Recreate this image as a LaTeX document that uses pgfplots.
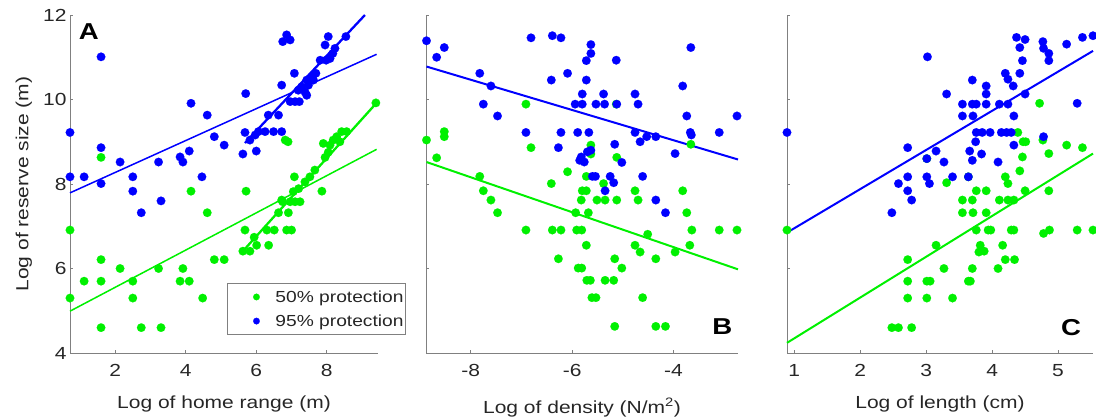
\documentclass[border=0pt]{standalone}
\usepackage{fontspec}
\setmainfont{Liberation Sans}[FakeStretch=1.2]
\usepackage{pgfplots}
\pgfplotsset{compat=1.18}
\definecolor{mblue}{RGB}{0,0,255}
\definecolor{mgreen}{RGB}{0,240,0}
\definecolor{axgray}{RGB}{128,128,128}
\definecolor{txt}{RGB}{38,38,38}
\newcommand\tf{\fontsize{17.5}{20}\selectfont}
\pgfplotsset{
  panel/.style={
    anchor=south west, scale only axis, height=338pt,
    ymin=4, ymax=12, ytick={4,6,8,10,12},
    axis x line*=bottom, axis y line*=left,
    axis line style={axgray, line width=0.8pt},
    tick align=inside, major tick length=3pt,
    every tick/.style={axgray, line width=0.8pt},
    tick label style={font=\tf, text=txt},
    label style={font=\tf, text=txt},
    xticklabel style={yshift=-8pt},
    clip=false,
  },
  gpts/.style={only marks, mark=*, mark size=4.3pt, mark options={fill=mgreen, draw=mgreen, line width=0.1pt}},
  bpts/.style={only marks, mark=*, mark size=4.3pt, mark options={fill=mblue, draw=mblue, line width=0.1pt}},
}
\begin{document}
\begin{tikzpicture}
\useasboundingbox (0,0) rectangle (1096pt,419pt);
% ---------------- Panel A
\begin{axis}[panel, at={(70pt,66pt)}, width=308pt,
  xmin=0.72, xmax=9.45, xtick={2,4,6,8}, xticklabels={2,4,6,8},
  yticklabels={4,6,8,10,12},
  xlabel={Log of home range (m)},
  xlabel style={at={(axis description cs:0.5,-0.163)}, anchor=base},
  ylabel={Log of reserve size (m)},
  ylabel style={at={(axis description cs:-0.150,0.5)}, anchor=center},
  legend cell align=left,
  legend style={at={(axis description cs:0.510,0.207)}, anchor=north west,
    draw=axgray, line width=0.8pt, font=\fontsize{16}{19}\selectfont, text=txt,
    inner xsep=0pt, inner ysep=5pt, row sep=7pt, column sep=6pt,
    nodes={inner sep=2pt}},
  legend image code/.code={\path[draw=none,fill=none] (0pt,-3pt) rectangle (40pt,3pt); \draw[#1, mark size=3.3pt] plot coordinates {(29pt,0pt)};},
]
\addplot[gpts] coordinates {
(0.72,6.91)(0.72,5.30)(1.12,5.70)(1.6,8.63)(1.6,6.21)(1.6,5.70)(1.6,4.60)(2.14,6.0)(2.5,5.7)(2.5,5.3)
(2.74,4.6)(3.23,6.0)(3.3,4.6)(3.84,5.7)(3.92,6.0)(4.10,5.7)(4.15,7.83)(4.48,5.3)(4.61,7.32)(4.81,6.21)
(5.09,6.21)(5.62,6.41)(5.68,6.91)(5.71,7.83)(5.82,6.41)(5.94,6.74)(6.01,6.55)(6.3,6.91)(6.35,6.55)(6.51,6.91)
(6.63,7.32)(6.72,7.62)(6.75,7.58)(6.82,9.04)(6.9,9.0)(6.86,6.91)(6.91,7.32)(7.0,6.91)(6.96,7.58)(7.1,7.58)
(7.24,7.58)(7.05,7.82)(7.08,8.17)(7.2,7.89)(7.38,8.05)(7.52,8.17)(7.66,8.33)(7.86,7.83)(7.90,8.96)(7.95,8.63)
(8.04,8.75)(8.09,8.92)(8.18,9.04)(8.28,9.12)(8.37,9.0)(8.42,9.24)(8.56,9.24)(9.39,9.92)
};
\addlegendentry{50\% protection}
\addplot[bpts] coordinates {
(0.72,9.22)(0.72,8.17)(1.12,8.17)(1.6,11.01)(1.6,8.86)(1.6,8.01)(2.14,8.52)(2.5,8.17)(2.5,7.83)(2.74,7.32)
(3.23,8.52)(3.3,7.6)(3.84,8.64)(3.92,8.52)(4.10,8.78)(4.15,9.91)(4.46,8.17)(4.61,9.63)(4.81,9.12)(5.09,8.92)
(5.62,8.71)(5.68,9.22)(5.70,10.14)(5.82,9.04)(5.97,9.16)(6.0,8.78)(6.06,9.24)(6.25,9.24)(6.34,9.63)(6.49,9.24)
(6.63,9.63)(6.72,9.24)(6.72,10.34)(6.75,11.37)(6.86,11.53)(6.96,11.41)(6.96,9.95)(7.08,10.62)(7.10,9.95)(7.22,9.95)
(7.19,10.22)(7.29,10.30)(7.38,10.18)(7.43,10.10)(7.43,10.46)(7.48,10.34)(7.57,10.54)(7.62,10.46)(7.69,10.62)(7.81,10.93)
(7.98,10.93)(8.09,10.97)(8.17,11.09)(8.23,11.21)(7.95,11.29)(8.04,11.49)(8.54,11.49)
};
\addlegendentry{95\% protection}
\addplot[mblue, line width=1.5pt, forget plot] coordinates {(0.72,7.79)(9.41,11.07)};
\addplot[mblue, line width=2.3pt, forget plot] coordinates {(5.68,8.97)(9.08,12.0)};
\addplot[mgreen, line width=1.5pt, forget plot] coordinates {(0.72,4.99)(9.41,8.82)};
\addplot[mgreen, line width=2.3pt, forget plot] coordinates {(5.62,6.41)(9.41,9.92)};
\node[font=\fontsize{23}{26}\selectfont\bfseries] at (axis description cs:0.061,0.951) {A};
\end{axis}
% ---------------- Panel B
\begin{axis}[panel, at={(426pt,66pt)}, width=312pt,
  xmin=-8.88, xmax=-2.73, xtick={-8,-6,-4}, xticklabels={-8,-6,-4},
  yticklabels={},
  xlabel={Log of density (N/m\textsuperscript{2})},
  xlabel style={at={(axis description cs:0.5,-0.178)}, anchor=base},
]
\addplot[gpts] coordinates {
(-8.87,9.04)(-8.52,9.24)(-8.52,9.12)(-8.67,8.62)(-7.82,8.18)(-7.75,7.84)(-7.60,7.62)(-7.47,7.32)(-6.91,9.89)(-6.81,8.86)
(-6.09,8.29)(-6.41,8.01)(-5.63,8.92)(-5.63,8.71)(-5.72,8.18)(-5.38,8.01)(-5.12,8.63)(-5.13,9.89)(-5.80,7.84)(-5.72,7.84)
(-5.82,7.62)(-5.51,7.62)(-5.35,7.62)(-5.12,7.62)(-4.76,7.84)(-4.70,7.62)(-3.82,7.84)(-3.66,8.94)(-6.91,6.91)(-6.39,6.91)
(-6.22,6.91)(-5.91,6.91)(-5.81,6.91)(-5.93,7.32)(-5.68,7.32)(-5.72,6.55)(-6.27,6.23)(-5.88,6.01)(-5.81,6.01)(-5.71,5.72)
(-5.64,5.72)(-5.35,5.72)(-5.18,5.72)(-5.61,5.31)(-5.53,5.31)(-5.16,6.23)(-5.02,6.01)(-5.16,4.63)(-4.35,4.63)(-4.16,4.63)
(-4.61,5.31)(-4.76,6.55)(-4.66,6.39)(-4.51,6.81)(-4.35,6.23)(-3.97,6.39)(-3.74,7.32)(-3.64,6.91)(-3.68,6.55)(-3.10,6.91)
(-2.75,6.91)
};
\addplot[bpts] coordinates {
(-8.87,11.39)(-8.67,11.0)(-8.52,11.23)(-7.82,10.62)(-7.60,10.32)(-7.75,9.89)(-7.47,9.61)(-6.81,11.46)(-6.39,11.51)(-6.22,11.46)
(-6.41,10.46)(-6.09,10.62)(-6.91,9.22)(-6.22,9.22)(-6.27,8.86)(-5.63,11.30)(-5.63,11.09)(-5.72,10.92)(-5.72,10.46)(-5.13,10.93)
(-5.80,10.13)(-5.38,10.13)(-5.94,9.89)(-5.80,9.89)(-5.53,9.89)(-5.36,9.89)(-5.12,9.89)(-4.76,10.13)(-4.70,9.89)(-5.89,9.22)
(-5.67,9.22)(-5.82,8.64)(-5.76,8.52)(-5.70,8.76)(-5.63,8.80)(-5.85,8.56)(-5.6,8.18)(-5.54,8.18)(-5.16,8.94)(-5.25,8.18)
(-5.18,8.03)(-5.35,7.84)(-5.02,8.51)(-4.61,8.18)(-4.76,9.22)(-4.66,9.0)(-4.53,9.12)(-4.35,9.12)(-4.35,7.62)(-4.16,7.32)
(-3.97,8.72)(-3.82,10.32)(-3.66,11.23)(-3.74,9.61)(-3.67,9.22)(-3.65,9.16)(-3.10,9.22)(-2.75,9.61)
};
\addplot[mblue, line width=2pt] coordinates {(-8.87,10.78)(-2.73,8.58)};
\addplot[mgreen, line width=2pt] coordinates {(-8.87,8.52)(-2.73,5.98)};
\node[font=\fontsize{23}{26}\selectfont\bfseries] at (axis description cs:0.950,0.078) {B};
\end{axis}
% ---------------- Panel C
\begin{axis}[panel, at={(787pt,66pt)}, width=306pt,
  xmin=0.89, xmax=5.53, xtick={1,2,3,4,5}, xticklabels={1,2,3,4,5},
  yticklabels={},
  xlabel={Log of length (cm)},
  xlabel style={at={(axis description cs:0.5,-0.163)}, anchor=base},
]
\addplot[gpts] coordinates {
(4.72,9.91)(4.39,9.22)(4.47,9.0)(4.51,9.0)(4.46,8.64)(4.42,8.31)(4.86,8.72)(4.77,9.04)(5.13,8.92)(5.37,8.86)
(3.31,8.03)(4.20,8.17)(4.24,8.01)(3.76,7.84)(3.91,7.84)(4.50,7.84)(4.86,7.84)(3.55,7.62)(3.70,7.62)(4.11,7.62)
(4.24,7.62)(4.33,7.62)(0.89,6.91)(3.55,7.32)(3.71,7.32)(3.91,7.32)(3.76,6.91)(3.94,6.91)(3.98,6.91)(4.29,6.91)
(4.33,6.91)(4.78,6.83)(4.87,6.91)(5.29,6.91)(5.53,6.91)(3.15,6.55)(3.82,6.55)(3.80,6.39)(3.88,6.41)(4.16,6.55)
(4.20,6.21)(4.34,6.21)(2.72,6.21)(3.27,6.0)(3.70,6.0)(4.09,6.0)(2.72,5.70)(3.01,5.70)(3.06,5.70)(3.64,5.70)
(3.67,5.70)(2.72,5.30)(3.01,5.30)(3.40,5.30)(2.48,4.60)(2.58,4.60)(2.78,4.60)(3.64,8.17)(3.01,8.60)
};
\addplot[bpts] coordinates {
(0.89,9.22)(3.02,11.01)(3.31,10.13)(2.72,8.86)(3.15,8.78)(3.01,8.60)(3.27,8.52)(2.58,8.01)(2.72,8.17)(3.01,8.17)
(3.05,8.01)(2.72,7.84)(2.78,7.62)(3.40,8.17)(3.64,8.17)(3.70,10.46)(3.91,10.32)(3.91,10.13)(3.55,9.89)(3.70,9.89)
(3.76,9.89)(3.91,9.89)(3.55,9.61)(3.71,9.61)(4.11,9.89)(4.24,9.89)(4.20,10.62)(4.24,10.48)(4.32,10.32)(4.37,11.47)
(4.50,11.42)(4.42,11.23)(4.46,10.92)(4.42,10.62)(4.50,10.13)(4.33,9.61)(3.76,9.22)(3.85,9.22)(3.97,9.22)(4.14,9.22)
(4.22,9.22)(4.29,9.22)(3.75,9.0)(3.66,8.78)(3.70,8.56)(3.84,8.71)(4.09,8.52)(4.33,8.92)(4.77,11.37)(4.78,11.21)
(4.86,11.09)(4.86,10.92)(5.13,11.31)(5.37,11.47)(5.53,11.51)(4.78,9.12)(5.29,9.91)(2.48,7.32)
};
\addplot[mblue, line width=2pt] coordinates {(0.89,6.85)(5.53,11.15)};
\addplot[mgreen, line width=2pt] coordinates {(0.89,4.24)(5.53,8.72)};
\node[font=\fontsize{23}{26}\selectfont\bfseries] at (axis description cs:0.928,0.074) {C};
\end{axis}
\end{tikzpicture}
\end{document}
